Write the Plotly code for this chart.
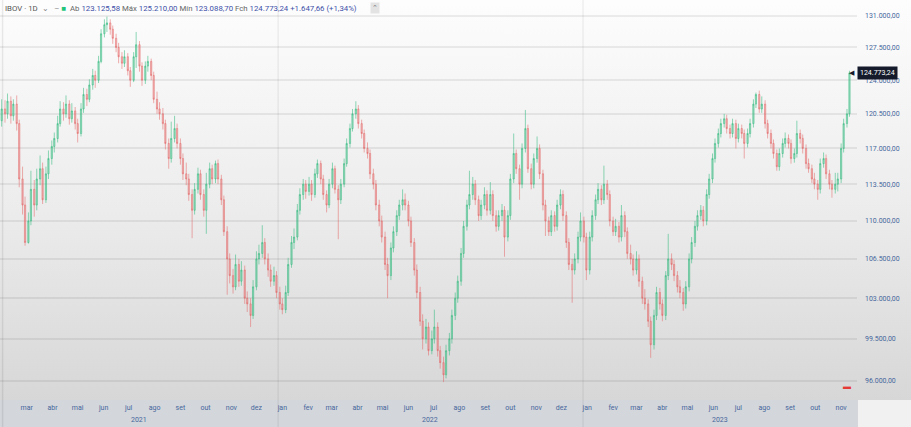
import base64
import math
import pandas as pd
import plotly.graph_objects as go

# ---------------- data (IBOV, values in thousands of points) ----------------
open_k = [
    119.8, 121.0, 120.5, 121.8, 120.3, 121.5, 119.5, 114.0, 111.5, 108.0,
    110.0, 113.0, 111.5, 114.0, 115.0, 112.0, 114.5, 116.0, 117.2, 118.0,
    119.5, 121.0, 120.5, 121.5, 120.0, 120.8, 119.5, 118.5, 121.0, 122.5,
    122.0, 123.5, 124.5, 124.0, 126.0, 129.0, 130.0, 130.2, 129.5, 128.5,
    127.5, 126.5, 125.8, 126.5, 125.0, 124.0, 126.5, 127.8, 125.5, 124.0,
    125.5, 126.0, 124.5, 122.0, 121.0, 120.5, 119.5, 117.5, 116.0, 118.0,
    119.0, 117.5, 116.0, 114.5, 114.0, 112.5, 111.0, 113.0, 114.5, 112.5,
    111.0, 113.5, 115.0, 114.0, 115.5, 114.0, 112.0, 109.0, 106.5, 105.0,
    104.0, 106.0, 104.5, 105.5, 103.0, 102.5, 101.5, 104.0, 106.5, 107.0,
    108.0, 106.5, 105.5, 104.5, 105.0, 103.5, 102.5, 102.0, 103.5, 106.0,
    108.0, 108.5, 111.0, 112.5, 113.5, 112.8, 113.5, 112.5, 114.5, 115.5,
    114.0, 112.5, 111.5, 113.5, 115.0, 113.0, 112.0, 113.5, 115.5, 117.5,
    119.0, 120.5, 121.0, 119.5, 118.5, 117.0, 116.5, 114.5, 113.5, 111.5,
    110.0, 108.5, 106.0, 105.0, 107.5, 109.0, 110.5, 111.5, 112.0, 111.5,
    110.0, 108.0, 105.5, 103.5, 101.0, 99.5, 100.5, 98.5, 99.5, 100.5,
    98.5, 97.5, 96.5, 98.5, 99.5, 101.5, 103.0, 104.5, 107.0, 109.5,
    111.5, 112.5, 113.5, 112.0, 110.5, 111.5, 112.5, 111.0, 112.5, 110.5,
    109.5, 110.5, 111.0, 108.5, 110.5, 114.0, 116.5, 115.0, 113.5, 117.0,
    119.0, 115.0, 113.5, 116.0, 117.0, 114.5, 111.5, 110.0, 109.0, 110.5,
    109.5, 111.5, 112.5, 110.5, 108.0, 106.0, 105.5, 106.5, 108.5, 110.0,
    108.5, 105.5, 108.5, 110.5, 112.0, 113.0, 112.0, 113.5, 112.5, 110.0,
    109.0, 109.5, 108.5, 110.5, 109.0, 107.0, 106.5, 105.5, 106.5, 104.5,
    103.0, 102.5, 101.0, 99.0, 101.5, 103.5, 102.5, 101.5, 105.0, 106.5,
    106.0, 105.0, 104.0, 103.5, 102.5, 104.0, 106.5, 108.0, 109.5, 110.5,
    111.0, 110.0, 112.5, 114.0, 116.0, 117.5, 118.5, 119.5, 120.0, 119.0,
    118.5, 119.5, 118.0, 119.0, 118.5, 117.5, 118.5, 119.5, 121.5, 122.5,
    121.0, 121.5, 119.5, 118.5, 117.5, 116.5, 115.2, 116.5, 117.5, 118.0,
    117.5, 116.0, 116.5, 118.5, 118.0, 117.0, 115.5, 115.0, 114.0, 113.5,
    113.0, 115.5, 116.0, 114.5, 113.5, 113.0, 113.5, 114.0, 117.0, 119.5,
    120.5,
]
high_k = [
    122.0, 121.9, 122.6, 122.3, 122.0, 122.4, 119.9, 115.2, 112.3, 110.8,
    114.8, 113.9, 115.0, 116.3, 115.6, 115.2, 116.8, 117.8, 118.6, 120.3,
    121.8, 121.7, 122.4, 121.9, 121.6, 121.2, 120.0, 121.6, 123.2, 123.1,
    124.1, 125.2, 125.0, 126.6, 129.5, 130.6, 130.9, 130.6, 129.9, 129.0,
    128.0, 127.0, 127.2, 126.9, 125.4, 127.0, 129.2, 128.2, 125.9, 126.0,
    126.6, 126.3, 124.9, 122.8, 121.7, 121.1, 119.9, 118.0, 119.7, 120.3,
    119.5, 118.0, 116.5, 115.6, 114.5, 113.0, 113.6, 115.1, 114.9, 113.0,
    114.6, 115.6, 115.4, 115.8, 115.9, 114.4, 112.4, 109.5, 107.0, 105.6,
    106.9, 106.5, 106.3, 105.9, 103.6, 103.0, 104.6, 107.2, 107.8, 109.6,
    108.4, 107.0, 106.0, 105.8, 105.4, 104.0, 103.0, 104.1, 106.6, 108.6,
    109.3, 111.6, 113.1, 114.0, 113.9, 114.2, 113.9, 115.0, 115.9, 115.8,
    114.4, 112.9, 114.0, 115.6, 115.3, 113.4, 114.0, 116.0, 118.0, 119.5,
    121.0, 121.8, 121.4, 119.9, 118.9, 117.6, 116.9, 115.0, 113.9, 112.0,
    110.5, 109.0, 106.6, 108.0, 109.5, 111.0, 112.0, 113.0, 112.6, 111.9,
    110.4, 108.4, 106.0, 104.0, 101.6, 101.2, 100.9, 100.2, 102.0, 100.9,
    98.9, 98.0, 99.0, 100.0, 102.0, 103.5, 105.0, 107.5, 110.0, 112.0,
    114.8, 114.2, 113.9, 112.4, 112.0, 113.2, 112.9, 113.7, 112.9, 111.0,
    111.0, 111.6, 111.4, 111.0, 114.5, 118.5, 116.9, 115.4, 117.5, 120.9,
    119.4, 115.5, 116.5, 118.2, 117.4, 114.9, 112.0, 110.4, 111.0, 110.9,
    112.0, 113.0, 112.9, 110.9, 108.4, 106.5, 107.0, 109.0, 110.8, 110.4,
    108.9, 109.0, 111.0, 112.5, 113.6, 113.4, 115.3, 113.9, 112.9, 110.4,
    110.2, 109.9, 111.5, 110.9, 109.4, 107.8, 106.9, 107.2, 106.9, 104.9,
    103.8, 102.9, 101.4, 102.0, 104.0, 103.9, 102.9, 105.4, 108.8, 107.0,
    106.4, 105.4, 104.6, 103.9, 104.5, 107.0, 108.5, 110.0, 111.0, 111.5,
    111.4, 113.0, 114.5, 116.5, 118.0, 119.0, 120.0, 120.5, 120.4, 119.4,
    120.0, 119.9, 119.5, 119.4, 118.9, 119.0, 120.0, 122.0, 122.7, 122.9,
    122.3, 121.9, 119.9, 118.9, 117.9, 116.9, 117.0, 118.0, 118.6, 118.4,
    117.9, 117.0, 119.8, 118.9, 118.4, 117.4, 116.0, 115.4, 114.6, 113.9,
    116.0, 116.6, 116.4, 114.9, 113.9, 114.6, 114.6, 117.5, 120.0, 121.0,
    125.0,
]
low_k = [
    119.2, 119.6, 120.0, 119.5, 119.8, 118.8, 113.2, 110.6, 107.7, 107.9,
    109.6, 110.4, 111.0, 113.4, 111.6, 111.7, 114.0, 115.4, 116.6, 117.6,
    119.2, 119.8, 120.1, 119.4, 119.6, 118.9, 117.6, 118.2, 120.6, 121.3,
    121.7, 123.0, 123.2, 123.7, 125.8, 128.6, 129.2, 128.9, 127.9, 127.0,
    125.8, 125.2, 125.4, 124.5, 123.3, 123.8, 125.3, 124.9, 123.4, 123.6,
    124.9, 124.0, 121.6, 120.5, 119.9, 118.9, 116.9, 115.0, 115.6, 117.6,
    117.0, 115.4, 113.9, 113.4, 111.9, 108.4, 110.6, 112.6, 112.0, 110.4,
    108.8, 113.1, 113.5, 113.6, 113.5, 111.5, 108.6, 103.3, 104.3, 103.4,
    103.7, 104.0, 104.1, 102.5, 101.8, 100.5, 101.2, 103.7, 106.0, 106.6,
    106.0, 104.9, 104.0, 104.1, 103.0, 102.0, 101.6, 101.7, 103.2, 105.7,
    107.4, 108.2, 110.6, 112.0, 112.1, 112.4, 111.9, 112.2, 114.1, 113.5,
    112.0, 110.8, 111.2, 113.1, 112.6, 108.3, 111.6, 113.2, 115.2, 117.1,
    118.7, 120.0, 119.0, 118.0, 116.6, 116.0, 114.0, 113.0, 111.0, 109.5,
    108.0, 105.5, 103.0, 104.6, 107.1, 108.6, 110.1, 111.0, 111.0, 109.5,
    107.6, 105.0, 103.0, 100.6, 98.6, 99.1, 98.1, 98.2, 99.1, 98.0,
    97.0, 95.9, 96.2, 98.1, 99.1, 101.1, 102.6, 104.1, 106.6, 109.1,
    111.1, 112.0, 111.5, 110.0, 110.1, 111.1, 110.5, 110.6, 110.0, 109.0,
    109.1, 110.0, 106.7, 108.1, 110.1, 113.6, 114.5, 112.0, 113.1, 116.6,
    114.6, 113.0, 113.1, 115.6, 114.0, 111.0, 108.6, 108.6, 108.6, 109.0,
    109.1, 111.1, 110.0, 107.5, 105.5, 102.6, 105.1, 106.1, 108.1, 108.0,
    104.6, 105.1, 108.1, 110.1, 111.6, 111.5, 111.6, 112.0, 109.5, 108.6,
    108.6, 108.0, 108.1, 108.5, 106.5, 106.0, 105.0, 105.1, 104.0, 102.5,
    102.0, 100.5, 97.9, 98.6, 101.1, 102.0, 101.0, 101.1, 104.6, 105.5,
    104.5, 103.5, 103.0, 101.9, 102.1, 103.6, 106.1, 107.6, 109.1, 110.1,
    109.5, 109.6, 112.1, 113.6, 115.6, 117.1, 118.1, 119.1, 118.5, 118.0,
    118.1, 117.0, 117.6, 118.0, 116.0, 117.1, 118.1, 119.1, 121.1, 120.6,
    120.6, 119.0, 118.0, 117.0, 116.0, 114.8, 114.8, 116.1, 117.1, 117.0,
    115.5, 115.6, 116.1, 117.5, 116.5, 115.0, 114.6, 113.6, 113.0, 112.0,
    112.6, 115.1, 114.0, 113.0, 112.2, 112.6, 112.8, 113.6, 116.6, 119.1,
    120.2,
]
close_k = [
    121.0, 120.5, 121.8, 120.3, 121.5, 119.5, 114.0, 111.5, 108.0, 110.0,
    113.0, 111.5, 114.0, 115.0, 112.0, 114.5, 116.0, 117.2, 118.0, 119.5,
    121.0, 120.5, 121.5, 120.0, 120.8, 119.5, 118.5, 121.0, 122.5, 122.0,
    123.5, 124.5, 124.0, 126.0, 129.0, 130.0, 130.2, 129.5, 128.5, 127.5,
    126.5, 125.8, 126.5, 125.0, 124.0, 126.5, 127.8, 125.5, 124.0, 125.5,
    126.0, 124.5, 122.0, 121.0, 120.5, 119.5, 117.5, 116.0, 118.0, 119.0,
    117.5, 116.0, 114.5, 114.0, 112.5, 111.0, 113.0, 114.5, 112.5, 111.0,
    113.5, 115.0, 114.0, 115.5, 114.0, 112.0, 109.0, 106.5, 105.0, 104.0,
    106.0, 104.5, 105.5, 103.0, 102.5, 101.5, 104.0, 106.5, 107.0, 108.0,
    106.5, 105.5, 104.5, 105.0, 103.5, 102.5, 102.0, 103.5, 106.0, 108.0,
    108.5, 111.0, 112.5, 113.5, 112.8, 113.5, 112.5, 114.5, 115.5, 114.0,
    112.5, 111.5, 113.5, 115.0, 113.0, 112.0, 113.5, 115.5, 117.5, 119.0,
    120.5, 121.0, 119.5, 118.5, 117.0, 116.5, 114.5, 113.5, 111.5, 110.0,
    108.5, 106.0, 105.0, 107.5, 109.0, 110.5, 111.5, 112.0, 111.5, 110.0,
    108.0, 105.5, 103.5, 101.0, 99.5, 100.5, 98.5, 99.5, 100.5, 98.5,
    97.5, 96.5, 98.5, 99.5, 101.5, 103.0, 104.5, 107.0, 109.5, 111.5,
    112.5, 113.5, 112.0, 110.5, 111.5, 112.5, 111.0, 112.5, 110.5, 109.5,
    110.5, 111.0, 108.5, 110.5, 114.0, 116.5, 115.0, 113.5, 117.0, 119.0,
    115.0, 113.5, 116.0, 117.0, 114.5, 111.5, 110.0, 109.0, 110.5, 109.5,
    111.5, 112.5, 110.5, 108.0, 106.0, 105.5, 106.5, 108.5, 110.0, 108.5,
    105.5, 108.5, 110.5, 112.0, 113.0, 112.0, 113.5, 112.5, 110.0, 109.0,
    109.5, 108.5, 110.5, 109.0, 107.0, 106.5, 105.5, 106.5, 104.5, 103.0,
    102.5, 101.0, 99.0, 101.5, 103.5, 102.5, 101.5, 105.0, 106.5, 106.0,
    105.0, 104.0, 103.5, 102.5, 104.0, 106.5, 108.0, 109.5, 110.5, 111.0,
    110.0, 112.5, 114.0, 116.0, 117.5, 118.5, 119.5, 120.0, 119.0, 118.5,
    119.5, 118.0, 119.0, 118.5, 117.5, 118.5, 119.5, 121.5, 122.5, 121.0,
    121.5, 119.5, 118.5, 117.5, 116.5, 115.2, 116.5, 117.5, 118.0, 117.5,
    116.0, 116.5, 118.5, 118.0, 117.0, 115.5, 115.0, 114.0, 113.5, 113.0,
    115.5, 116.0, 114.5, 113.5, 113.0, 113.5, 114.0, 117.0, 119.5, 120.5,
    124.77,
]

month_labels = ["mar", "abr", "mai", "jun", "jul", "ago", "set", "out", "nov", "dez",
                "jan", "fev", "mar", "abr", "mai", "jun", "jul", "ago", "set", "out", "nov", "dez",
                "jan", "fev", "mar", "abr", "mai", "jun", "jul", "ago", "set", "out", "nov"]
year_labels = ["2021", "2022", "2023"]
year_label_dates = ["2021-07-18", "2022-07-02", "2023-06-14"]
y_tickvals = [96.0, 99.5, 103.0, 106.5, 110.0, 113.5, 117.0, 120.5, 124.0, 127.5, 131.0]
y_ticktext = ["96.000,00", "99.500,00", "103.000,00", "106.500,00", "110.000,00", "113.500,00",
              "117.000,00", "120.500,00", "124.000,00", "127.500,00", "131.000,00"]
last_price_text = "124.773,24"
legend_html = ("<span style='color:#555'>IBOV · 1D</span>  <span style='color:#888'>⌄</span>"
               "   <span style='color:#888'>–</span> <span style='color:#22c47a'>■</span>  "
               "<span style='color:#666'>Ab</span> <span style='color:#4050a8'>123.125,58</span> "
               "<span style='color:#666'>Máx</span> <span style='color:#4050a8'>125.210,00</span> "
               "<span style='color:#666'>Mín</span> <span style='color:#4050a8'>123.088,70</span> "
               "<span style='color:#666'>Fch</span> <span style='color:#4050a8'>124.773,24 +1.647,66 (+1,34%)</span>")

# candle dates: twice-weekly (Mon / Thu)
d0, d1 = "2021-02-04", "2023-11-16"
dates = sorted(list(pd.date_range(d0, d1, freq="W-MON")) + list(pd.date_range(d0, d1, freq="W-THU")))
n = min(len(dates), len(close_k))
dates = dates[:n]

month_ticks = [d + pd.Timedelta(days=5) for d in pd.date_range("2021-03-01", periods=len(month_labels), freq="MS")]

W, H = 911, 427
L_M, R_M, T_M, B_M = 0, 54, 0, 27
PW, PH = W - L_M - R_M, H - T_M - B_M

# background gradient as an inline SVG
svg = (f'<svg xmlns="http://www.w3.org/2000/svg" width="{W}" height="{H}" preserveAspectRatio="none">'
       '<defs><linearGradient id="g" x1="0" y1="0" x2="0" y2="1">'
       '<stop offset="0" stop-color="#fdfdfd"/><stop offset="0.5" stop-color="#ededed"/>'
       '<stop offset="1" stop-color="#d7d7d7"/></linearGradient></defs>'
       f'<rect width="{W}" height="{PH}" fill="url(#g)"/>'
       f'<rect y="{PH}" width="{W}" height="{B_M}" fill="#d3d6db"/>'
       f'<rect x="{PW + 1}" y="{PH}" width="{R_M}" height="{B_M}" fill="#f1f1f1"/>'
       '</svg>')
bg_src = "data:image/svg+xml;base64," + base64.b64encode(svg.encode()).decode()

fig = go.Figure(go.Candlestick(
    x=dates, open=open_k[:n], high=high_k[:n], low=low_k[:n], close=close_k[:n],
    increasing=dict(line=dict(color="rgba(50,185,125,0.55)", width=1), fillcolor="rgba(50,185,125,0.40)"),
    decreasing=dict(line=dict(color="rgba(230,95,95,0.50)", width=1), fillcolor="rgba(230,95,95,0.38)"),
    whiskerwidth=0, showlegend=False, hoverinfo="skip",
))

tick_font = dict(family="Roboto, Arial, sans-serif", size=7, color="#46679c")

annotations = [
    dict(xref="paper", yref="paper", x=0.004, y=1 - 8 / PH, xanchor="left", yanchor="middle",
         text=legend_html, showarrow=False, font=dict(family="Roboto, Arial, sans-serif", size=7.8)),
    dict(xref="paper", yref="paper", x=370 / PW, y=1 - 8 / PH, xanchor="left", yanchor="middle",
         text="⌃", showarrow=False, bgcolor="#e3e3e3", borderpad=1,
         font=dict(family="Roboto, Arial, sans-serif", size=7, color="#777")),
    dict(xref="paper", yref="y", x=1.0, y=math.log10(close_k[n - 1]), xanchor="left", yanchor="middle",
         text=last_price_text, showarrow=False, bgcolor="#161b2c", borderpad=2,
         font=dict(family="Roboto, Arial, sans-serif", size=7, color="#ffffff")),
    dict(xref="paper", yref="y", x=1.0, y=math.log10(close_k[n - 1]), xanchor="right", yanchor="middle",
         text="◀", showarrow=False, font=dict(size=7, color="#161b2c")),
    dict(xref="x", yref="paper", x=dates[n - 2], y=15 / PH, xanchor="center", yanchor="middle",
         text="▬", showarrow=False, font=dict(size=8, color="#e53935")),
]
for lab, dx in zip(year_labels, year_label_dates):
    annotations.append(dict(xref="x", yref="paper", x=dx, y=-20 / PH, xanchor="center", yanchor="middle",
                            text=lab, showarrow=False, font=tick_font))

shapes = [
    dict(type="line", xref="x", yref="paper", x0=yr, x1=yr, y0=-B_M / PH, y1=1,
         line=dict(color="rgba(0,0,0,0.06)", width=1.5), layer="below")
    for yr in ["2022-01-01", "2023-01-01"]
] + [
    dict(type="line", xref="paper", yref="paper", x0=0.003, x1=0.003, y0=-B_M / PH, y1=1,
         line=dict(color="rgba(0,0,0,0.08)", width=1.5), layer="below"),
]

fig.update_layout(
    width=W, height=H, autosize=False,
    margin=dict(l=L_M, r=R_M, t=T_M, b=B_M, pad=0),
    paper_bgcolor="#f4f4f4", plot_bgcolor="rgba(0,0,0,0)",
    images=[dict(source=bg_src, xref="paper", yref="paper", x=0, y=1,
                 sizex=W / PW, sizey=H / PH, xanchor="left", yanchor="top",
                 sizing="stretch", layer="below")],
    xaxis=dict(type="date", range=["2021-02-02", "2023-11-25"], rangeslider=dict(visible=False),
               tickmode="array", tickvals=month_ticks, ticktext=month_labels,
               showgrid=False, zeroline=False, showline=False, ticks="", tickfont=tick_font,
               ticklabelstandoff=2),
    yaxis=dict(type="log", side="right", range=[math.log10(94.45), math.log10(132.76)],
               tickmode="array", tickvals=y_tickvals, ticktext=y_ticktext,
               showgrid=True, gridcolor="rgba(0,0,0,0.065)", gridwidth=1.5,
               zeroline=False, showline=False, ticks="", tickfont=tick_font, ticklabelstandoff=7),
    annotations=annotations, shapes=shapes, showlegend=False,
)

fig.write_html("out.html", config={"displayModeBar": False},
               post_script="document.body.style.margin='0';document.body.style.overflow='hidden';")
